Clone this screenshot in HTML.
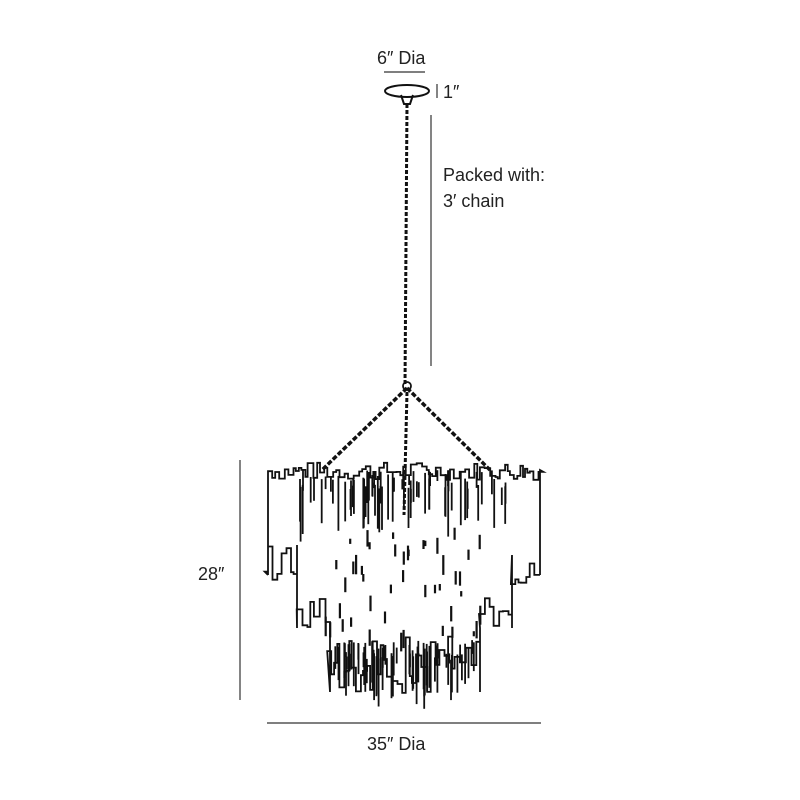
<!DOCTYPE html>
<html><head><meta charset="utf-8"><style>
html,body{margin:0;padding:0;background:#fff;width:800px;height:800px;overflow:hidden}
svg{display:block}
text{font-family:"Liberation Sans",sans-serif;fill:#222}
</style></head><body>
<svg id="s" width="800" height="800" viewBox="0 0 800 800" xmlns="http://www.w3.org/2000/svg">
<text x="377" y="64" font-size="18">6″ Dia</text>
<line x1="384" y1="72" x2="425" y2="72" stroke="#333" stroke-width="1.2"/>
<line x1="437" y1="84" x2="437" y2="98" stroke="#333" stroke-width="1.2"/>
<text x="443" y="98" font-size="18">1″</text>
<ellipse cx="407" cy="91" rx="22" ry="6" fill="none" stroke="#111" stroke-width="2"/>
<path d="M401 95 L404 104 L410 104 L413 95" fill="none" stroke="#111" stroke-width="2"/>
<line x1="431" y1="115" x2="431" y2="366" stroke="#333" stroke-width="1.2"/>
<text x="443" y="181" font-size="18">Packed with:</text>
<text x="443" y="207" font-size="18">3′ chain</text>
<line x1="240" y1="460" x2="240" y2="700" stroke="#333" stroke-width="1.2"/>
<text x="198" y="580" font-size="18">28″</text>
<line x1="267" y1="723" x2="541" y2="723" stroke="#333" stroke-width="1.2"/>
<text x="367" y="750" font-size="18">35″ Dia</text>
<g id="g" fill="none" stroke="#111" stroke-width="1.8"></g>
</svg>
<script>
var g=document.getElementById('g'),seed=7;
function r(){seed=(seed*9301+49297)%233280;return seed/233280;}
function add(d,w,dash){var p=document.createElementNS('http://www.w3.org/2000/svg','path');p.setAttribute('d',d);if(w)p.setAttribute('stroke-width',w);if(dash)p.setAttribute('stroke-dasharray',dash);g.appendChild(p);}
// chains
add('M407 104 L405 385',3,'4 2');
add('M407 388 L322 470',3.5,'5 2');
add('M407 388 L490 470',3.5,'5 2');
add('M407 392 L404 515',3,'4 2');
var c=document.createElementNS('http://www.w3.org/2000/svg','circle');c.setAttribute('cx',407);c.setAttribute('cy',386);c.setAttribute('r',4);g.appendChild(c);
// jagged top edge
function jag(x1,x2,base,amp){var d='',x=x1;while(x<x2){var y=base-r()*amp;d+=' L'+x.toFixed(1)+' '+y.toFixed(1);x+=2+r()*4;d+=' L'+x.toFixed(1)+' '+y.toFixed(1);}return d;}
// outline
var d='M268 575 L268 475'+jag(268,540,480,18)+' L540 470 L540 575';
d+=jag(540,512,575,0).replace(/.*/,'');
function jagB(xa,xb,base,amp){var d='',x=xa,dir=xb>xa?1:-1;while((xb-x)*dir>0){var y=base-r()*amp;d+=' L'+x.toFixed(1)+' '+y.toFixed(1);x+=dir*(2+r()*4);d+=' L'+x.toFixed(1)+' '+y.toFixed(1);}return d;}
d+=jagB(540,512,585,30)+' L512 555 L512 628'+jagB(512,480,630,35)+' L480 628 L480 692'+jagB(480,330,695,60)+' L330 692 L330 625'+jagB(330,297,630,35)+' L297 628 L297 545'+jagB(297,268,585,40)+' L268 575';
add(d,1.8);
// hanging crystals
for(var i=0;i<70;i++){var x=300+r()*210,y=470+r()*20,l=10+r()*45;add('M'+x.toFixed(1)+' '+y.toFixed(1)+' l0 '+l.toFixed(1),1.8);}
for(var i=0;i<60;i++){var x=335+r()*140,y=640+r()*20,l=10+r()*40;add('M'+x.toFixed(1)+' '+y.toFixed(1)+' l0 '+l.toFixed(1),1.8);}
for(var i=0;i<45;i++){var x=320+r()*170,y=525+r()*110,l=5+r()*15;add('M'+x.toFixed(1)+' '+y.toFixed(1)+' l0 '+l.toFixed(1),2.2);}
</script>
</body></html>
